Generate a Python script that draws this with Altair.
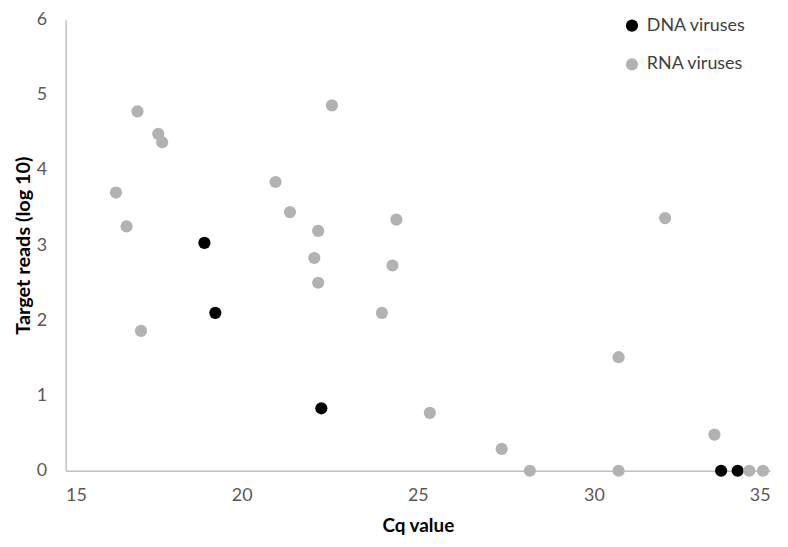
import altair as alt
import pandas as pd

# Data
dna_cq = [18.94, 19.25, 22.26, 33.61, 34.08]
dna_reads = [3.03, 2.10, 0.83, 0.0, 0.0]

rna_cq = [16.43, 16.73, 17.04, 17.14, 17.63, 17.74, 20.96, 21.37, 22.06, 22.17,
          22.17, 22.56, 23.98, 24.28, 24.39, 25.34, 27.38, 28.18, 30.70, 30.70,
          32.02, 33.42, 34.41, 34.80]
rna_reads = [3.70, 3.25, 4.78, 1.86, 4.48, 4.37, 3.84, 3.44, 2.83, 3.19,
             2.50, 4.86, 2.10, 2.73, 3.34, 0.77, 0.29, 0.0, 1.51, 0.0,
             3.36, 0.48, 0.0, 0.0]

series_names = ["DNA viruses", "RNA viruses"]
series_colors = ["#000000", "#b2b2b2"]
x_ticks = [15, 20, 25, 30, 35]
y_ticks = [0, 1, 2, 3, 4, 5, 6]

df = pd.concat([
    pd.DataFrame({"cq": dna_cq, "reads": dna_reads, "type": series_names[0]}),
    pd.DataFrame({"cq": rna_cq, "reads": rna_reads, "type": series_names[1]}),
], ignore_index=True)

FONT = "Lato"

chart = alt.Chart(df).mark_circle(size=150, opacity=1).encode(
    x=alt.X("cq:Q", title="Cq value",
            scale=alt.Scale(domain=[15, 35], nice=False, zero=False),
            axis=alt.Axis(values=x_ticks, grid=False, ticks=False,
                          domainColor="#bfbfbf", domainWidth=1.5,
                          labelColor="#595959", labelFontSize=18, labelFont=FONT,
                          labelPadding=16,
                          titleFont=FONT, titleFontSize=19, titleFontWeight="bold",
                          titleColor="#000000", titlePadding=12)),
    y=alt.Y("reads:Q", title="Target reads (log 10)",
            scale=alt.Scale(domain=[0, 6], nice=False),
            axis=alt.Axis(values=y_ticks, grid=False, ticks=False,
                          domainColor="#bfbfbf", domainWidth=1.5,
                          labelColor="#595959", labelFontSize=18, labelFont=FONT,
                          labelPadding=19,
                          titleFont=FONT, titleFontSize=20, titleFontWeight="bold",
                          titleColor="#000000", titlePadding=3)),
    color=alt.Color("type:N",
                    scale=alt.Scale(domain=series_names, range=series_colors),
                    legend=alt.Legend(title=None, orient="none",
                                      legendX=561, legendY=-3, padding=0,
                                      symbolType="circle", symbolSize=150,
                                      symbolStrokeWidth=0,
                                      labelFont=FONT, labelFontSize=18,
                                      labelColor="#404040", labelOffset=6,
                                      rowPadding=21)),
).properties(
    width=709, height=454,
    padding={"left": 58, "top": 10, "right": 10, "bottom": 66},
    autosize=alt.AutoSizeParams(type="none"),
).configure_view(stroke=None)

chart.save("out.html", embed_options={"renderer": "svg", "actions": False})
